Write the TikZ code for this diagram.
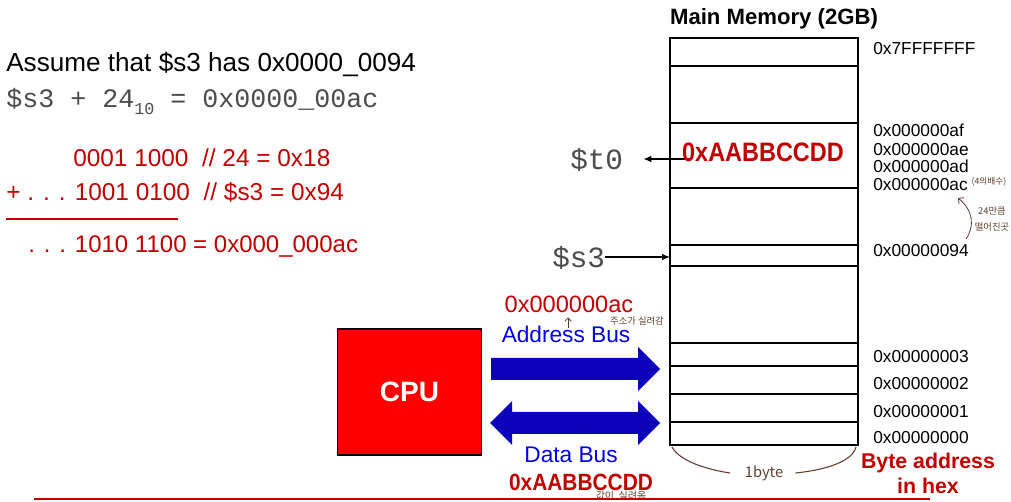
\documentclass[tikz,border=0pt]{standalone}
\usepackage{fontspec}
\usepackage{graphicx}
\setmainfont{Liberation Sans}
\setmonofont{Liberation Mono}
\newfontfamily\krfont{Noto Sans CJK KR}
\usetikzlibrary{arrows.meta,calc}
\definecolor{hexred}{RGB}{192,0,0}
\definecolor{busblue}{RGB}{12,0,184}
\definecolor{txtblue}{RGB}{0,0,235}
\definecolor{pen}{RGB}{95,62,45}
\definecolor{mono}{RGB}{75,75,75}
\def\fsz#1#2{\fontsize{#1}{#2}\selectfont}

\begin{document}
\begin{tikzpicture}[x=0.75pt,y=-0.75pt,
  lbl/.style={anchor=base west,inner sep=0pt},
  addr/.style={lbl,font=\fsz{13}{15}},
  note/.style={pen,inner sep=0pt,font=\krfont\fsz{7.5}{8}},
  ptr/.style={line width=1pt,-{Latex[length=6pt,width=5pt]}}]
\useasboundingbox (0,0) rectangle (1011,502);

% address arithmetic
\node (assume) at (6,72)[lbl,font=\fsz{19.6}{22}]{Assume that \$s3 has 0x0000\_0094};
\node (offset) at (6,108)[lbl,mono,font=\ttfamily\fsz{20}{22}]{\$s3 + 24\raisebox{-5pt}{\fsz{12.5}{13}10} = 0x0000\_00ac};
\node (bin1) at (73,167)[lbl,hexred,font=\fsz{18.3}{20}]{0001 1000 \ // 24 = 0x18};
\node (bin2) at (6,201)[lbl,hexred,font=\fsz{18.3}{20}]{+ . . . 1001 0100 \ // \$s3 = 0x94};
\draw[hexred,line width=2.2pt] (6,219) -- (178,219);
\node (bin3) at (28,253)[lbl,hexred,font=\fsz{18}{20}]{. . . 1010 1100 = 0x000\_000ac};

% memory
\node (title) at (774,25)[anchor=base,inner sep=0pt,font=\bfseries\fsz{16.6}{18}]{Main Memory (2GB)};
\draw[line width=1pt] (670,38) rectangle (858,445);
\foreach \y in {66,123,188,245,266,343,366,394,422}
  \draw[line width=1pt] (670,\y) -- (858,\y);
\foreach \a/\y in {7FFFFFFF/55,000000af/137,000000ae/156,000000ad/173,000000ac/191,00000094/257,00000003/363,00000002/390,00000001/417,00000000/443}
  \node (m\a) at (873,\y)[addr]{0x\a};
\node (mult) at (989,182)[note,font=\krfont\fsz{6.5}{7}]{(4의배수)};
\coordinate (from94) at (966,239);
\coordinate (toac) at (958,198);
\draw[pen,line width=0.6pt,-{Straight Barb[length=3pt]}] (from94) .. controls (975,226) and (973,210) .. (toac);
\node (gap) at (992,219)[note,align=center,font=\krfont\fsz{7}{12.5}]{24만큼\\떨어진곳};

% registers
\node (tzero) at (570,170)[lbl,mono,font=\ttfamily\fsz{22}{24}]{\$t0};
\node (sthree) at (552,268)[lbl,mono,font=\ttfamily\fsz{22}{24}]{\$s3};
\coordinate (tsrc) at (690,159);
\coordinate (s3cell) at (670,257);
\draw[ptr,shorten >=15pt] (tsrc) -- (tsrc -| tzero.east);
\draw[ptr] (sthree.east |- s3cell) -- (s3cell);
\node (word) at (763,162)[anchor=base,inner sep=0pt,hexred,font=\bfseries\fsz{20}{22}]{\scalebox{0.88}[1]{0xAABBCCDD}};

% cpu and buses
\node (cpu) at (409.5,392)[draw,line width=1pt,fill=red,minimum width=108pt,minimum height=94.5pt,text=white,font=\bfseries\fsz{21}{23}]{CPU};
\fill[busblue] (491,358) -- (638,358) -- (638,347) -- (660,369) -- (638,391) -- (638,380) -- (491,380) -- cycle;
\fill[busblue] (490,423) -- (512,401) -- (512,412) -- (638,412) -- (638,401) -- (660,423) -- (638,445) -- (638,434) -- (512,434) -- (512,445) -- cycle;
\node (abus) at (566,343)[anchor=base,inner sep=0pt,txtblue,font=\fsz{17}{19}]{Address Bus};
\node (aval) at (569,313)[anchor=base,inner sep=0pt,hexred,font=\fsz{17.7}{20}]{0x000000ac};
\coordinate (atail) at (568,328);
\draw[pen,line width=0.6pt,-{Straight Barb[length=2.5pt]}] (atail) -- ([yshift=-3pt]atail |- aval.south);
\node (anote) at (637,321)[note,font=\krfont\fsz{7}{8}]{주소가 실려감};
\node (dbus) at (571,462)[anchor=base,inner sep=0pt,txtblue,font=\fsz{17}{19}]{Data Bus};
\node (dval) at (581,490)[anchor=base,inner sep=0pt,hexred,font=\bfseries\fsz{17.6}{20}]{\scalebox{0.89}[1]{0xAABBCCDD}};
\node (dnote) at (621,496)[note,font=\krfont\fsz{7.5}{8}]{값이 \ 실려옴};

% one byte brace
\coordinate (bl) at (672,447);
\coordinate (br) at (856,447);
\node (onebyte) at (764,473)[pen,inner sep=0pt,font=\krfont\fsz{11}{12}]{1byte};
\draw[pen,line width=0.8pt] (bl) .. controls (680,462) and (710,470) .. ([xshift=-11pt]onebyte.west);
\draw[pen,line width=0.8pt] ([xshift=9pt]onebyte.east) .. controls (825,470) and (852,462) .. (br);
\node (hexnote) at (928,473)[hexred,inner sep=0pt,align=center,font=\bfseries\fsz{16}{18.75}]{Byte address\\in hex};

\draw[hexred,line width=1.5pt] (34,499) -- (930,499);
\end{tikzpicture}
\end{document}
